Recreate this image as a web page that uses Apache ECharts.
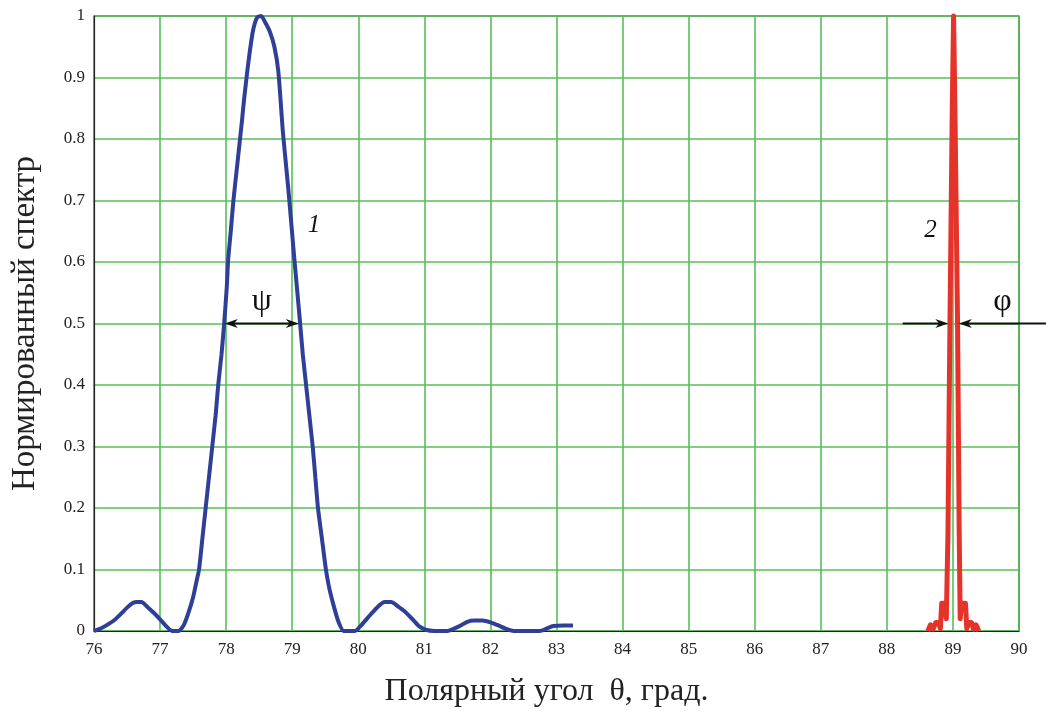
<!DOCTYPE html>
<html><head><meta charset="utf-8">
<script src="https://cdn.jsdelivr.net/npm/echarts@6/dist/echarts.min.js"></script>
<style>html,body{margin:0;padding:0;background:#fff}#c{width:1046px;height:711px}</style>
</head><body><div id="c"></div>
<script>
const xTicks = [76,77,78,79,80,81,82,83,84,85,86,87,88,89,90];
const yTicks = [0,0.1,0.2,0.3,0.4,0.5,0.6,0.7,0.8,0.9,1];
const series1 = [[76.00,0],[76.10,0.004],[76.20,0.01],[76.30,0.017],[76.40,0.027],[76.50,0.038],[76.58,0.045],[76.65,0.047],[76.72,0.047],[76.80,0.04],[76.90,0.03],[77.00,0.019],[77.10,0.007],[77.18,0.0],[77.28,0.0],[77.36,0.01],[77.43,0.03],[77.50,0.055],[77.55,0.08],[77.59,0.1],[77.64,0.15],[77.69,0.2],[77.74,0.25],[77.79,0.3],[77.84,0.35],[77.88,0.4],[77.93,0.45],[77.97,0.5],[78.01,0.56],[78.03,0.603],[78.07,0.65],[78.11,0.7],[78.16,0.75],[78.20,0.79],[78.24,0.83],[78.27,0.863],[78.32,0.91],[78.36,0.944],[78.41,0.978],[78.47,0.998],[78.53,1.0],[78.59,0.99],[78.66,0.975],[78.73,0.95],[78.79,0.91],[78.86,0.81],[78.94,0.72],[79.02,0.62],[79.07,0.56],[79.12,0.5],[79.16,0.45],[79.21,0.4],[79.26,0.35],[79.31,0.3],[79.35,0.25],[79.39,0.2],[79.45,0.15],[79.51,0.1],[79.56,0.07],[79.63,0.04],[79.70,0.015],[79.78,0.0],[79.95,0.0],[80.05,0.01],[80.18,0.026],[80.30,0.04],[80.40,0.047],[80.50,0.047],[80.60,0.04],[80.70,0.032],[80.83,0.018],[80.93,0.007],[81.02,0.002],[81.15,0.0],[81.35,0.0],[81.45,0.004],[81.55,0.009],[81.65,0.015],[81.75,0.017],[81.88,0.017],[82.00,0.014],[82.12,0.009],[82.25,0.003],[82.35,0.0],[82.55,0.0],[82.75,0.0],[82.85,0.004],[82.95,0.008],[83.10,0.009],[83.25,0.009]];
const series2 = [[88.62,0],[88.66,0.01],[88.70,0.003],[88.74,0.014],[88.78,0.014],[88.81,0.004],[88.83,0.045],[88.87,0.045],[88.90,0.02],[88.925,0.16],[88.955,0.5],[88.99,0.85],[89.01,1.0],[89.03,0.85],[89.07,0.5],[89.095,0.16],[89.11,0.02],[89.13,0.045],[89.19,0.045],[89.21,0.004],[89.24,0.014],[89.28,0.014],[89.31,0.003],[89.35,0.01],[89.39,0]];
const psiArrow = [[77.98,0.5],[79.10,0.5]];
const phiLeftArrow = [[88.24,0.5],[88.93,0.5]];
const phiRightArrow = [[90.41,0.5],[89.09,0.5]];
const labels = [{t:'ψ',p:[78.54,0.535],italic:false,size:32},{t:'1',p:[79.33,0.66],italic:true,size:25},{t:'2',p:[88.66,0.652],italic:true,size:25},{t:'φ',p:[89.75,0.535],italic:false,size:32}];
const xName = 'Полярный угол  θ, град.';
const yName = 'Нормированный спектр';

const chart = echarts.init(document.getElementById('c'));
const serif = '"Liberation Serif","Times New Roman",serif';
chart.setOption({
  animation:false,
  grid:{left:94,right:27,top:16,bottom:80,outerBoundsMode:'none',containLabel:false,show:true,borderColor:'#222',borderWidth:1.2,backgroundColor:'transparent'},
  xAxis:{type:'value',min:76,max:90,interval:1,
    axisLine:{show:true,onZero:false,lineStyle:{color:'#222',width:1.2}},
    axisTick:{show:false},
    splitLine:{show:true,lineStyle:{color:'#56c156',width:1.6}},
    axisLabel:{color:'#222',fontFamily:serif,fontSize:17,margin:10,formatter:v=>xTicks.includes(v)?String(v):''},
    name:xName,nameLocation:'middle',nameGap:45,nameTextStyle:{fontFamily:serif,fontSize:32,color:'#222',padding:[0,20,0,0]}},
  yAxis:{type:'value',min:0,max:1,interval:0.1,
    axisLine:{show:true,lineStyle:{color:'#222',width:1.2}},
    axisTick:{show:false},
    splitLine:{show:true,lineStyle:{color:'#56c156',width:1.6}},
    axisLabel:{color:'#222',fontFamily:serif,fontSize:17,margin:9,formatter:v=>{const r=Math.round(v*10)/10;const s=(r===0||r===1)?String(r):r.toFixed(1);return yTicks.includes(r)?s:'';}},
    name:yName,nameLocation:'middle',nameGap:52,nameRotate:90,nameTextStyle:{fontFamily:serif,fontSize:33,color:'#222'}},
  series:[
    {type:'line',data:series1,showSymbol:false,smooth:0.2,clip:false,lineStyle:{color:'#2f3f98',width:4},z:3},
    {type:'line',data:series2,showSymbol:false,clip:false,lineStyle:{color:'#e5332a',width:5,join:'round'},z:3}
  ]
});

function px(p){return chart.convertToPixel({gridIndex:0},p);}
function arrowHead(tip,dir){
  const L=13,W=4.5;
  return {type:'polygon',shape:{points:[[tip[0],tip[1]],[tip[0]-dir*L,tip[1]-W],[tip[0]-dir*L*0.7,tip[1]],[tip[0]-dir*L,tip[1]+W]]},style:{fill:'#111'},z:10};
}
const g=[];
{
  const a=px(psiArrow[0]), b=px(psiArrow[1]);
  g.push({type:'line',shape:{x1:a[0]+4,y1:a[1],x2:b[0]-4,y2:b[1]},style:{stroke:'#111',lineWidth:2},z:10});
  g.push(arrowHead(a,-1)); g.push(arrowHead(b,1));
}
{
  const a=px(phiLeftArrow[0]), b=px(phiLeftArrow[1]);
  g.push({type:'line',shape:{x1:a[0],y1:a[1],x2:b[0]-4,y2:b[1]},style:{stroke:'#111',lineWidth:2},z:10});
  g.push(arrowHead(b,1));
}
{
  const a=px(phiRightArrow[0]), b=px(phiRightArrow[1]);
  g.push({type:'line',shape:{x1:a[0],y1:a[1],x2:b[0]+4,y2:b[1]},style:{stroke:'#111',lineWidth:2},z:10});
  g.push(arrowHead(b,-1));
}
labels.forEach(l=>{const p=px(l.p);g.push({type:'text',x:p[0],y:p[1],style:{text:l.t,font:(l.italic?'italic ':'')+l.size+'px '+serif,fill:'#111',align:'center',verticalAlign:'middle'},z:10});});
chart.setOption({graphic:g});
</script>
</body></html>
